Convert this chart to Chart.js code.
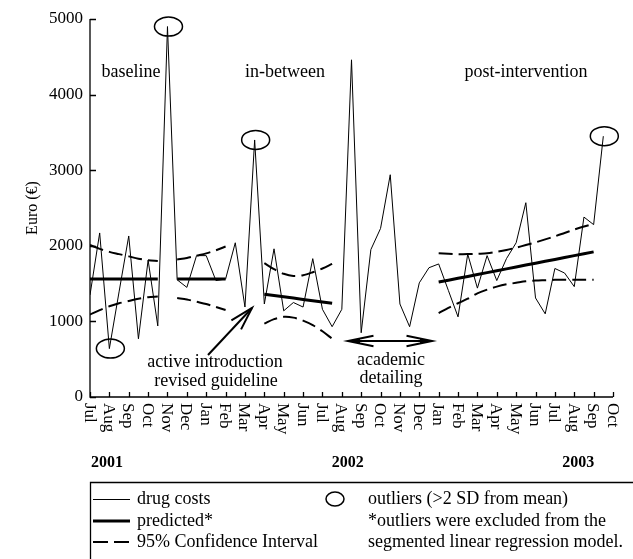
<!DOCTYPE html>
<html><head><meta charset="utf-8">
<script src="https://cdn.jsdelivr.net/npm/chart.js@4/dist/chart.umd.min.js"></script>
<style>html,body{margin:0;padding:0;background:#fff}canvas{display:block}</style>
</head><body>
<canvas id="c" width="633" height="559"></canvas>
<script>
// Month tick labels (Jul 2001 .. Oct 2003)
const months = ['Jul','Aug','Sep','Oct','Nov','Dec','Jan','Feb','Mar','Apr','May','Jun',
                'Jul','Aug','Sep','Oct','Nov','Dec','Jan','Feb','Mar','Apr','May','Jun',
                'Jul','Aug','Sep','Oct'];
const years = ['2001','2002','2003'];
const yTicks = [0,1000,2000,3000,4000,5000];
// Half-monthly drug costs (Euro)
const drugCosts = [1350,2170,640,1390,2130,770,1810,940,4900,1550,1450,1870,1870,1540,1560,2040,
                   1190,3400,1230,1960,1140,1250,1190,1830,1160,930,1160,4460,850,1950,2230,2940,
                   1230,930,1510,1710,1760,1410,1060,1890,1440,1870,1540,1830,2040,2570,1310,1100,
                   1700,1640,1460,2380,2280,3450];
const N = null;
// Segmented regression: predicted values
const predicted = [1560,1560,1560,1560,1560,1560,1560,1560,N,1560,1560,1560,1560,1560,1560,
                   N,N,N,
                   1360,1343,1326,1309,1291,1274,1257,1240,
                   N,N,N,N,N,N,N,N,N,N,
                   1520,1545,1570,1595,1620,1645,1670,1695,1720,1745,1770,1795,1820,1845,1870,1895,1920,
                   N];
const ciUpper = [2010,1960,1920,1890,1860,1830,1810,1800,N,1820,1840,1870,1900,1940,1990,
                 N,N,N,
                 1770,1690,1630,1600,1610,1650,1700,1760,
                 N,N,N,N,N,N,N,N,N,N,
                 1900,1895,1890,1890,1895,1900,1920,1945,1975,2010,2045,2085,2125,2170,2215,2255,2290,
                 N];
const ciLower = [1090,1150,1200,1240,1270,1300,1320,1330,N,1310,1290,1260,1230,1190,1150,
                 N,N,N,
                 970,1030,1060,1050,1010,950,870,770,
                 N,N,N,N,N,N,N,N,N,N,
                 1110,1180,1240,1300,1370,1420,1460,1490,1510,1530,1540,1545,1550,1550,1550,1550,1550,
                 N];
const outliers = [2,8,17,53];

const pts = arr => arr.map((v,i)=>({x:i, y:v}));
const SERIF = '"Liberation Serif", "Times New Roman", serif';

const deco = {
  id:'deco',
  afterDraw(chart){
    const {ctx, chartArea:a, scales:{x,y}} = chart;
    ctx.save();
    ctx.strokeStyle='#000'; ctx.fillStyle='#000';
    // axes
    ctx.lineWidth=1.3;
    ctx.beginPath();
    ctx.moveTo(a.left, a.top); ctx.lineTo(a.left, a.bottom); ctx.lineTo(a.right, a.bottom);
    yTicks.forEach(v=>{ const py=Math.round(y.getPixelForValue(v))+0.5; ctx.moveTo(a.left,py); ctx.lineTo(a.left+6,py); });
    months.forEach((m,i)=>{ const px=Math.round(x.getPixelForValue(i*2))+0.5; ctx.moveTo(px,a.bottom); ctx.lineTo(px,a.bottom-5); });
    ctx.stroke();
    // month labels (rotated clockwise)
    ctx.font='17px '+SERIF;
    months.forEach((m,i)=>{
      const px=x.getPixelForValue(i*2);
      ctx.save(); ctx.translate(px, a.bottom+6); ctx.rotate(Math.PI/2);
      ctx.textAlign='left'; ctx.textBaseline='middle'; ctx.fillText(m,0,1); ctx.restore();
    });
    // years
    ctx.font='bold 16px '+SERIF; ctx.textBaseline='middle';
    ctx.textAlign='left'; ctx.fillText(years[0], x.getPixelForValue(0)+1, 463);
    ctx.textAlign='center';
    ctx.fillText(years[1], x.getPixelForValue(26.6), 463);
    ctx.fillText(years[2], x.getPixelForValue(50.4), 463);
    // outlier ellipses
    ctx.lineWidth=1.5;
    outliers.forEach(i=>{
      const px=x.getPixelForValue(i), py=y.getPixelForValue(drugCosts[i]);
      ctx.beginPath(); ctx.ellipse(px+1, py, 14, 9.5, 0, 0, Math.PI*2); ctx.stroke();
    });
    // phase labels
    ctx.font='18px '+SERIF; ctx.textAlign='center'; ctx.textBaseline='middle';
    ctx.fillText('baseline', 131, 72);
    ctx.fillText('in-between', 285, 72);
    ctx.fillText('post-intervention', 526, 72);
    ctx.fillText('active introduction', 215, 362);
    ctx.fillText('revised guideline', 216, 381);
    ctx.fillText('academic', 391, 360);
    ctx.fillText('detailing', 391, 378);
    // arrow to guideline
    const arrowHead=(tx,ty,ang,len,spread)=>{
      ctx.beginPath();
      ctx.moveTo(tx+len*Math.cos(ang+spread), ty+len*Math.sin(ang+spread));
      ctx.lineTo(tx,ty);
      ctx.lineTo(tx+len*Math.cos(ang-spread), ty+len*Math.sin(ang-spread));
      ctx.stroke();
    };
    ctx.lineWidth=2;
    ctx.beginPath(); ctx.moveTo(208,355); ctx.lineTo(252,308); ctx.stroke();
    arrowHead(252,308,Math.atan2(355-308,208-252),24,0.28);
    // academic detailing double arrow
    ctx.beginPath(); ctx.moveTo(348,341); ctx.lineTo(432,341); ctx.stroke();
    ctx.lineWidth=2;
    arrowHead(348,341,0,26,0.2);
    arrowHead(432,341,Math.PI,26,0.2);
    ctx.beginPath(); ctx.moveTo(348,341); ctx.lineTo(360,338.5); ctx.lineTo(360,343.5); ctx.closePath(); ctx.fill();
    ctx.beginPath(); ctx.moveTo(432,341); ctx.lineTo(420,338.5); ctx.lineTo(420,343.5); ctx.closePath(); ctx.fill();
    // legend box
    ctx.lineWidth=1.3;
    ctx.beginPath(); ctx.moveTo(90.5,565); ctx.lineTo(90.5,482.5); ctx.lineTo(640,482.5); ctx.stroke();
    const rows=[499,521,542];
    ctx.lineWidth=1; ctx.beginPath(); ctx.moveTo(93,rows[0]+0.5); ctx.lineTo(130,rows[0]+0.5); ctx.stroke();
    ctx.lineWidth=3; ctx.beginPath(); ctx.moveTo(93,rows[1]); ctx.lineTo(130,rows[1]); ctx.stroke();
    ctx.lineWidth=2; ctx.setLineDash([15,6]); ctx.beginPath(); ctx.moveTo(93,rows[2]); ctx.lineTo(130,rows[2]); ctx.stroke();
    ctx.setLineDash([]);
    ctx.lineWidth=1.5; ctx.beginPath(); ctx.ellipse(335,rows[0],9,7,0,0,Math.PI*2); ctx.stroke();
    ctx.font='18px '+SERIF; ctx.textAlign='left'; ctx.textBaseline='middle';
    ctx.fillText('drug costs',137,rows[0]);
    ctx.fillText('predicted*',137,rows[1]);
    ctx.fillText('95% Confidence Interval',137,rows[2]);
    ctx.fillText('outliers (>2 SD from mean)',368,rows[0]);
    ctx.fillText('*outliers were excluded from the',368,rows[1]);
    ctx.fillText('segmented linear regression model.',368,rows[2]);
    ctx.restore();
  }
};

new Chart(document.getElementById('c'), {
  type:'line',
  data:{datasets:[
    {label:'drug costs', data:pts(drugCosts), borderColor:'#000', borderWidth:1, pointRadius:0, tension:0, spanGaps:false},
    {label:'predicted*', data:pts(predicted), borderColor:'#000', borderWidth:3, pointRadius:0, tension:0, spanGaps:false},
    {label:'95% CI upper', data:pts(ciUpper), borderColor:'#000', borderWidth:2, borderDash:[14,6], pointRadius:0, tension:0.3, spanGaps:false},
    {label:'95% CI lower', data:pts(ciLower), borderColor:'#000', borderWidth:2, borderDash:[14,6], pointRadius:0, tension:0.3, spanGaps:false}
  ]},
  options:{
    responsive:false, animation:false, devicePixelRatio:1, events:[],
    layout:{padding:{top:19,right:20,left:0,bottom:0}},
    plugins:{legend:{display:false}, tooltip:{enabled:false}},
    scales:{
      x:{type:'linear', min:0, max:(months.length-1)*2,
         grid:{display:false, drawTicks:false}, border:{display:false},
         ticks:{display:false},
         afterFit(s){ s.height=162; }},
      y:{min:0, max:5000,
         grid:{display:false, drawTicks:false}, border:{display:false},
         afterBuildTicks(s){ s.ticks = yTicks.map(v=>({value:v})); },
         ticks:{padding:7, color:'#000', font:{family:SERIF, size:17}, callback:v=>String(v)},
         title:{display:true, text:'Euro (€)', color:'#000', font:{family:SERIF, size:16}, padding:{top:23,bottom:0}},
         afterFit(s){ s.width=90; }}
    }
  },
  plugins:[deco]
});
</script>
</body></html>
